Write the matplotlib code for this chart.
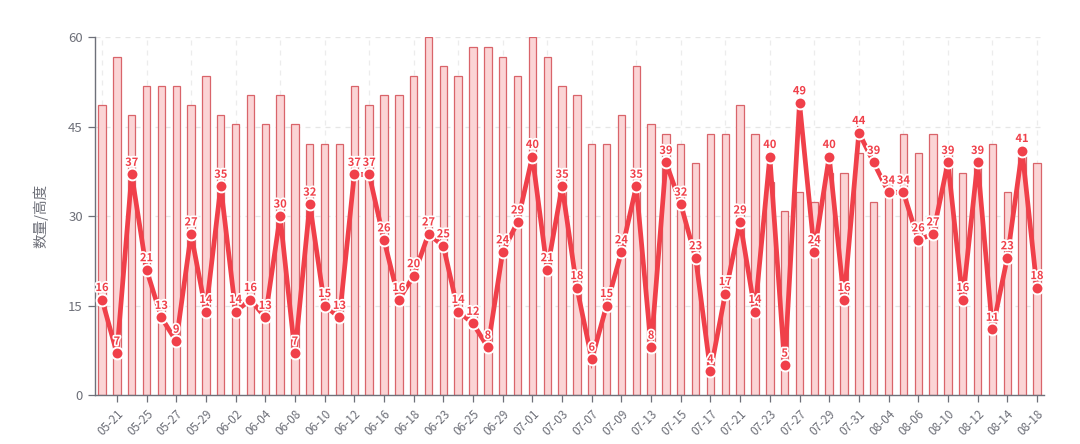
import matplotlib

matplotlib.use("Agg")
import matplotlib.pyplot as plt
import matplotlib.patheffects as pe
import numpy as np

plt.rcParams["font.family"] = ["Noto Sans CJK SC", "DejaVu Sans"]

# categories (odd positions are the labelled ones; even ones are guesses)
dates = [
    "05-20", "05-21", "05-24", "05-25", "05-26", "05-27", "05-28", "05-29",
    "06-01", "06-02", "06-03", "06-04", "06-07", "06-08", "06-09", "06-10",
    "06-11", "06-12", "06-15", "06-16", "06-17", "06-18", "06-20", "06-23",
    "06-24", "06-25", "06-28", "06-29", "06-30", "07-01", "07-02", "07-03",
    "07-06", "07-07", "07-08", "07-09", "07-12", "07-13", "07-14", "07-15",
    "07-16", "07-17", "07-20", "07-21", "07-22", "07-23", "07-26", "07-27",
    "07-28", "07-29", "07-30", "07-31", "08-03", "08-04", "08-05", "08-06",
    "08-09", "08-10", "08-11", "08-12", "08-13", "08-14", "08-17", "08-18",
]

# line series (数量)
counts = [
    16, 7, 37, 21, 13, 9, 27, 14, 35, 14, 16, 13, 30, 7, 32, 15,
    13, 37, 37, 26, 16, 20, 27, 25, 14, 12, 8, 24, 29, 40, 21, 35,
    18, 6, 15, 24, 35, 8, 39, 32, 23, 4, 17, 29, 14, 40, 5, 49,
    24, 40, 16, 44, 39, 34, 34, 26, 27, 39, 16, 39, 11, 23, 41, 18,
]

# bar series (高度), raw values; the tallest bar reaches the top of the axis
heights = [
    30, 35, 29, 32, 32, 32, 30, 33, 29, 28, 31, 28, 31, 28, 26, 26,
    26, 32, 30, 31, 31, 33, 37, 34, 33, 36, 36, 35, 33, 37, 35, 32,
    31, 26, 26, 29, 34, 28, 27, 26, 24, 27, 27, 30, 27, 22, 19, 21,
    20, 23, 23, 25, 20, 22, 27, 25, 27, 25, 23, 24, 26, 21, 25, 24,
]

Y_MAX = 60
Y_TICKS = [0, 15, 30, 45, 60]

LINE_RED = "#f0404a"
BAR_FACE = "#fbd4d5"
BAR_EDGE = "#d9646a"
GREY = "#6e7079"


def main():
    x = np.arange(len(dates))
    bars = np.array(heights) * Y_MAX / max(heights)

    fig = plt.figure(figsize=(10.8, 4.44), dpi=100)
    ax = fig.add_axes([0.0876, 0.1104, 0.8794, 0.8056])

    for v in Y_TICKS[1:]:
        ax.axhline(v, color="#e6e6e6", lw=0.9, ls=(0, (4, 4)), zorder=0)
    for xi in x[::3]:
        ax.axvline(xi, color="#ececec", lw=0.9, ls=(0, (4, 4)), zorder=0)

    ax.bar(x, bars, width=0.5, color=BAR_FACE, edgecolor=BAR_EDGE,
           linewidth=0.9, zorder=1)
    ax.plot(x, counts, color=LINE_RED, lw=3.4, zorder=3,
            solid_joinstyle="miter")
    ax.plot(x, counts, ls="none", marker="o", ms=8.5, mfc=LINE_RED,
            mec="white", mew=1.4, zorder=3.5)

    for xi, v in zip(x, counts):
        ax.annotate(str(v), (xi, v), xytext=(0, 4), textcoords="offset points",
                    ha="center", va="bottom", fontsize=8, fontweight="bold",
                    color=LINE_RED, zorder=4,
                    path_effects=[pe.withStroke(linewidth=2.5, foreground="white")])

    ax.set_xlim(-0.5, len(dates) - 0.5)
    ax.set_ylim(0, Y_MAX)
    ax.set_yticks(Y_TICKS)
    ax.set_xticks(x[1::2])
    ax.set_xticklabels(dates[1::2], rotation=45, ha="right",
                       rotation_mode="anchor", fontsize=8.5, color=GREY)
    ax.tick_params(axis="y", labelsize=9.5, labelcolor=GREY, color=GREY,
                   length=5, width=0.9)
    ax.tick_params(axis="x", color=GREY, length=5, width=0.9, pad=4)

    for side in ("top", "right"):
        ax.spines[side].set_visible(False)
    for side in ("left", "bottom"):
        ax.spines[side].set_color(GREY)
        ax.spines[side].set_linewidth(1.0)

    ax.set_ylabel("数量/高度", fontsize=10.5, color=GREY, labelpad=14)

    fig.savefig("out.png", dpi=100)


if __name__ == "__main__":
    main()
